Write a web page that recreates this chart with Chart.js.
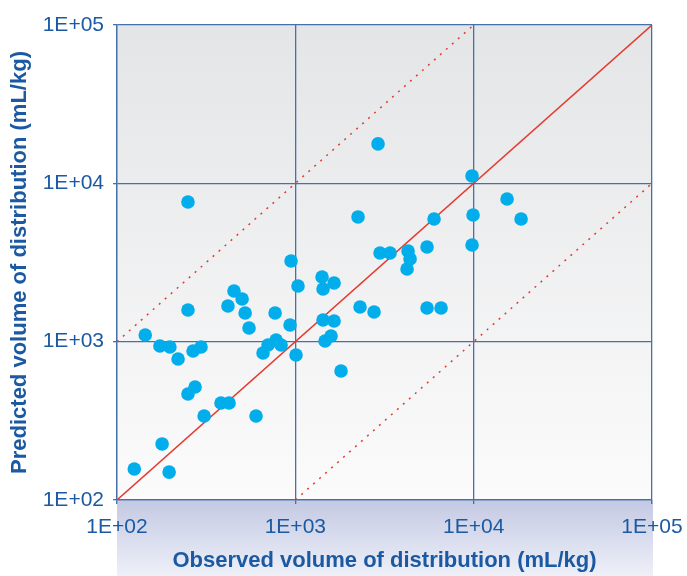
<!DOCTYPE html>
<html>
<head>
<meta charset="utf-8">
<script src="https://cdn.jsdelivr.net/npm/chart.js@4/dist/chart.umd.min.js"></script>
<style>
    html, body { margin: 0; padding: 0; background: #fff; }
    #wrap { width: 687px; height: 576px; }
</style>
</head>
<body>
<div id="wrap"><canvas id="chart" width="687" height="576"></canvas></div>
<script>
// observed vs predicted volume of distribution (mL/kg)
const observed = [125, 196, 179, 144, 174, 198, 220, 267, 296, 250,
    250, 250, 274, 308, 383, 425, 419, 453, 503, 523,
    550, 602, 659, 703, 770, 780, 832, 934, 946, 1009,
    1035, 1412, 1430, 1430, 1468, 1586, 1649, 1649, 1804, 2247,
    2306, 2763, 2909, 2985, 3397, 4287, 4399, 4232, 5477, 5477,
    6565, 5996, 9795, 9922, 9795, 15395, 18445];
const predicted = [157, 150, 226, 1102, 939, 926, 777, 873, 926, 7630,
    1586, 467, 517, 339, 410, 410, 1681, 2091, 1861, 1518,
    1220, 339, 848, 953, 1518, 1025, 953, 1275, 3235, 824,
    2248, 2563, 2152, 1371, 1010, 1086, 1351, 2348, 653, 6135,
    1657, 1540, 17740, 3634, 3634, 3741, 3331, 2879, 3965, 1633,
    1633, 5958, 11137, 6315, 4082, 7970, 5958];

const tickValues = [100, 1000, 10000, 100000];
const identityLine = [100, 100000];
const upperFold = [[100, 1000], [10000, 100000]];   // 10x over
const lowerFold = [[1000, 100], [100000, 10000]];   // 10x under

const blue = '#1b5aa3';
const gridColor = '#4570aa';
const fontFamily = "'Liberation Sans', Arial, sans-serif";

const points = observed.map((x, i) => ({ x: x, y: predicted[i] }));

// backgrounds: grey fade in the plot, lilac band under the x axis
const backgrounds = {
    id: 'backgrounds',
    beforeDraw(chart) {
        const { ctx, chartArea: a, height } = chart;
        ctx.save();
        let g = ctx.createLinearGradient(0, a.top, 0, a.bottom);
        g.addColorStop(0, '#e4e5e6');
        g.addColorStop(1, '#fbfbfc');
        ctx.fillStyle = g;
        ctx.fillRect(a.left, a.top, a.right - a.left, a.bottom - a.top);

        g = ctx.createLinearGradient(0, a.bottom, 0, height);
        g.addColorStop(0, '#c3c9e3');
        g.addColorStop(1, '#eef0f8');
        ctx.fillStyle = g;
        ctx.fillRect(a.left, a.bottom, a.right - a.left + 1, height - a.bottom);
        ctx.restore();
    }
};

function axis(title, isX) {
    return {
        type: 'logarithmic',
        min: 100,
        max: 100000,
        afterBuildTicks: scale => {
            scale.ticks = tickValues.map(v => ({ value: v }));
        },
        afterFit: scale => {
            if (isX) {
                scale.height = 76;
                // keep the end labels from squeezing the plot
                scale.paddingLeft = 0;
                scale.paddingRight = 0;
            } else {
                scale.width = 117;
                scale.paddingTop = 0;
                scale.paddingBottom = 0;
            }
        },
        ticks: {
            color: blue,
            font: { family: fontFamily, size: 21 },
            padding: isX ? 11 : 9,
            callback: v => '1E+0' + Math.round(Math.log10(v))
        },
        grid: { color: gridColor, lineWidth: 1.3, tickLength: 4 },
        border: { color: gridColor, width: 1.3 },
        title: {
            display: true,
            text: title,
            color: blue,
            font: { family: fontFamily, size: 22, weight: 'bold' },
            padding: isX ? { top: 0, bottom: 2 } : { top: 7, bottom: 0 }
        }
    };
}

new Chart(document.getElementById('chart'), {
    type: 'scatter',
    data: {
        datasets: [{
            data: points,
            backgroundColor: '#02adeb',
            borderWidth: 0,
            pointRadius: 6.8,
            order: 0
        }, {
            data: identityLine.map(v => ({ x: v, y: v })),
            showLine: true,
            borderColor: '#e5392e',
            borderWidth: 1.5,
            pointRadius: 0,
            order: 1
        }, {
            data: upperFold.map(p => ({ x: p[0], y: p[1] })),
            showLine: true,
            borderColor: '#e5392e',
            borderWidth: 1.5,
            borderDash: [2, 6],
            pointRadius: 0,
            order: 1
        }, {
            data: lowerFold.map(p => ({ x: p[0], y: p[1] })),
            showLine: true,
            borderColor: '#e5392e',
            borderWidth: 1.5,
            borderDash: [2, 6],
            pointRadius: 0,
            order: 1
        }]
    },
    options: {
        responsive: false,
        animation: false,
        layout: { padding: { top: 25, right: 35, left: 0, bottom: 0 } },
        plugins: { legend: { display: false }, tooltip: { enabled: false } },
        scales: {
            x: axis('Observed volume of distribution (mL/kg)', true),
            y: axis('Predicted volume of distribution (mL/kg)', false)
        }
    },
    plugins: [backgrounds]
});
</script>
</body>
</html>
